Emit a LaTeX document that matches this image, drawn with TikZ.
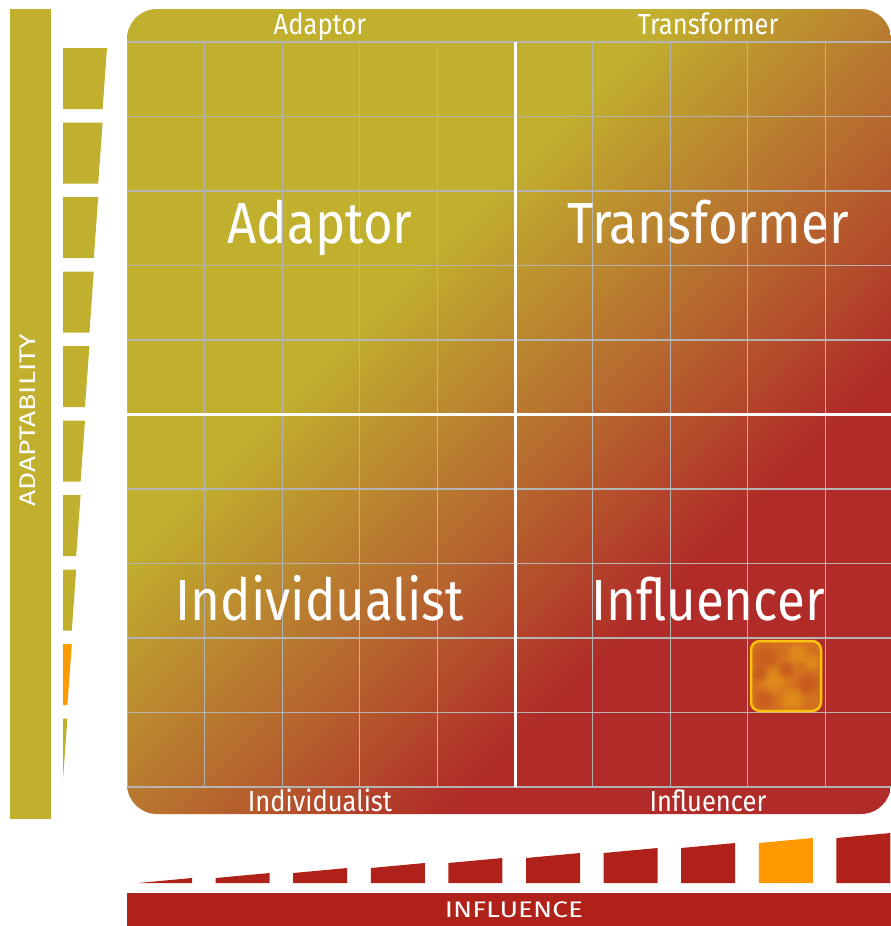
\documentclass[tikz,border=0pt]{standalone}
\usepackage{fontspec}
\usetikzlibrary{calc}
\setmainfont{Fira Sans}
\newfontfamily\quadfont{Fira Sans}[FakeStretch=0.88]
\newfontfamily\axisfont{Fira Sans}[FakeStretch=1.25]
\definecolor{adaptgold}{HTML}{C1AF2E}
\definecolor{influred}{HTML}{B12B28}
\definecolor{midbrown}{HTML}{B7702F}
\definecolor{barred}{HTML}{B02219}
\definecolor{pickorange}{HTML}{FF9900}
\definecolor{pickrim}{HTML}{FFC20E}
\definecolor{pickbase}{HTML}{D2721F}
\definecolor{pickhot}{HTML}{EBA317}
\definecolor{pickdeep}{HTML}{C24C1E}
\definecolor{gridgray}{HTML}{B4B4B4}
% olive in the top left, red in the bottom right
\pgfdeclareverticalshading{quadfade}{100bp}{color(0bp)=(influred); color(34.5bp)=(influred);
	color(47.7bp)=(midbrown); color(60.8bp)=(adaptgold); color(100bp)=(adaptgold)}
\tikzset{
	gridline/.style={gridgray,line width=1.2pt},
	axisline/.style={white,line width=3pt},
	biglabel/.style={white,anchor=base,font=\quadfont\fontsize{58}{60}\selectfont},
	bandlabel/.style={white,anchor=base,font=\quadfont\fontsize{29}{30}\selectfont},
	axislabel/.style={white,inner sep=0pt,font=\axisfont\fontsize{22.5}{24}\selectfont},
}
\begin{document}
\begin{tikzpicture}[x=1pt,y=1pt]
	\def\cw{77.6}
	\def\rh{74.5}
	\def\gl{127}
	\def\gt{-42}
	\def\gb{-787}
	\useasboundingbox (0,0) rectangle (891,-926);
	% quadrant chart with its grid
	\begin{scope}
		\clip[rounded corners=30pt] (\gl,-9) rectangle (891,-814);
		\shade[shading=quadfade,shading angle=45] (\gl,-9) rectangle (891,-814);
		\foreach \i in {0,...,10}\draw[gridline] (\gl+\i*\cw,\gt)--(\gl+\i*\cw,\gb);
		\foreach \j in {0,...,10}\draw[gridline] (\gl,\gt-\j*\rh)--(891,\gt-\j*\rh);
	\end{scope}
	\draw[axisline] (\gl+5*\cw,\gt)--(\gl+5*\cw,\gb);
	\draw[axisline] (\gl,\gt-5*\rh)--(891,\gt-5*\rh);
	\node[biglabel] (adaptor) at (320,-243) {Adaptor};
	\node[biglabel] (transformer) at (708,-243) {Transformer};
	\node[biglabel] (individualist) at (320,-620) {Individualist};
	\node[biglabel] (influencer) at (708,-620) {Influencer};
	\node[bandlabel] (adaptortop) at (320,-34) {Adaptor};
	\node[bandlabel] (transformertop) at (708,-34) {Transformer};
	\node[bandlabel] (individualistbot) at (320,-811) {Individualist};
	\node[bandlabel] (influencerbot) at (708,-811) {Influencer};
	% the marked cell, soft blotches inside
	\node[draw=pickrim,line width=2.5pt,rounded corners=9pt,minimum size=70pt,fill=pickbase,
		path picture={\foreach \px/\py/\r/\c in {-20/18/14/pickdeep,12/22/12/pickhot,22/-8/13/pickdeep,-12/-4/15/pickhot,
			-22/-24/11/pickdeep,6/-24/14/pickhot,0/6/9/pickdeep,26/14/9/pickhot,-26/2/9/pickdeep}
			\foreach \s in {1,.8,.6,.4}
			\fill[\c,opacity=.16] ($(path picture bounding box.center)+(\px,\py)$) circle (\s*\r);}]
		(pick) at (786,-676) {};
	% adaptability axis
	\fill[adaptgold] (10,-9) rectangle (51,-819);
	\node[axislabel,rotate=90] (adaptability) at (28,-420) {ADAPTABILITY};
	\foreach \i in {0,...,9}{
		\def\c{adaptgold}\ifnum\i=8 \def\c{pickorange}\fi
		\fill[\c] (63,-48-\i*\rh)--(107-4.4*\i,-48-\i*\rh)--(102.6-4.4*\i,-109-\i*\rh)--(63,-109-\i*\rh)--cycle;
	}
	% influence axis
	\foreach \k in {0,...,9}{
		\def\c{barred}\ifnum\k=8 \def\c{pickorange}\fi
		\fill[\c] (138+\k*\cw,-883)--(138+\k*\cw,-883+5*\k)--(192+\k*\cw,-878+5*\k)--(192+\k*\cw,-883)--cycle;
	}
	\fill[barred] (\gl,-893) rectangle (891,-926);
	\node[axislabel,anchor=base] (influence) at (514,-917) {INFLUENCE};
\end{tikzpicture}
\end{document}
